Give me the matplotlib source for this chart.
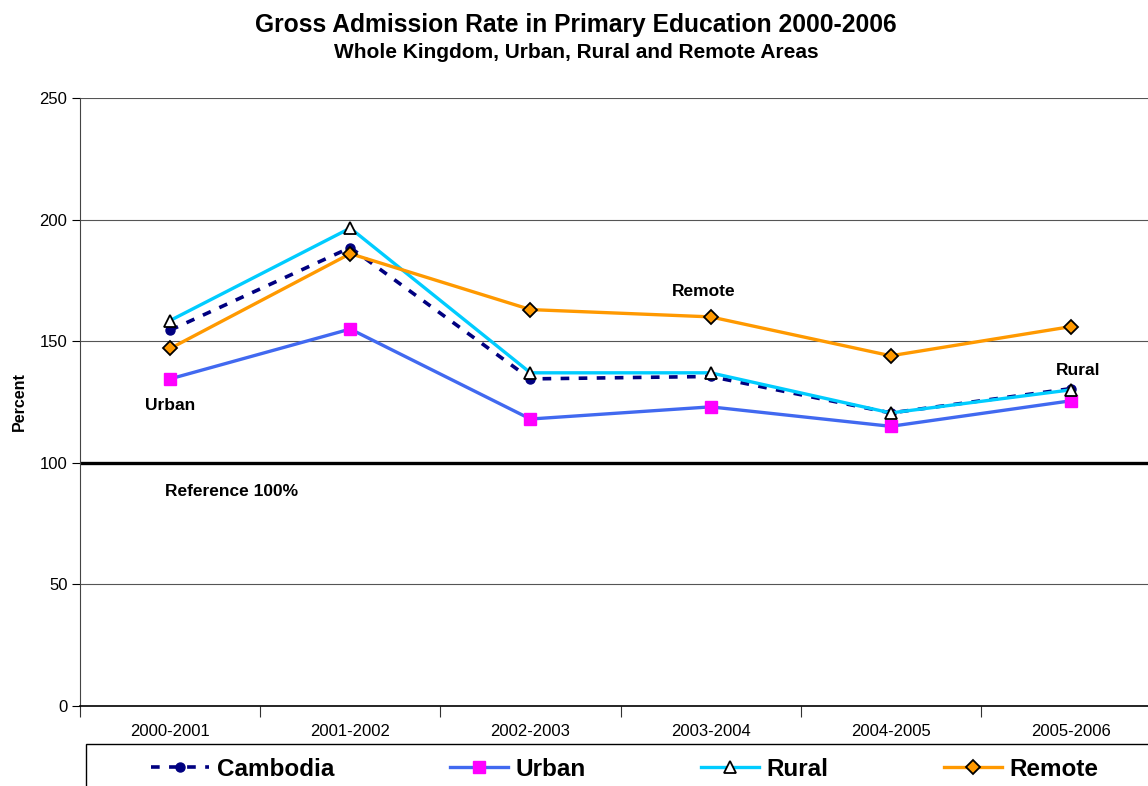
import matplotlib.pyplot as plt
from matplotlib.patches import Rectangle

plt.rcParams['font.family'] = ['Liberation Sans', 'DejaVu Sans']

# school years on the x axis
years = ["2000-2001", "2001-2002", "2002-2003", "2003-2004", "2004-2005", "2005-2006"]

# gross admission rate (%) per area
cambodia = [154.5, 188.5, 134.5, 135.5, 120.5, 130.5]
urban = [134.5, 155.0, 118.0, 123.0, 115.0, 125.5]
rural = [158.5, 196.5, 137.0, 137.0, 120.5, 130.0]
remote = [147.0, 186.0, 163.0, 160.0, 144.0, 156.0]

reference = 100

W, H = 1148, 786
fig = plt.figure(figsize=(W / 100, H / 100), dpi=100)
# plot area runs a little past the right edge of the figure
ax = fig.add_axes([80 / W, 1 - 706 / H, (1161 - 80) / W, (706 - 98) / H])

x = list(range(len(years)))

ax.plot(x, cambodia, color='#000080', lw=2.6, ls=(0, (2.4, 2.6)), marker='o',
        ms=6.5, mfc='#000080', mec='#000080', label='Cambodia', zorder=3)
ax.plot(x, urban, color='#4169F0', lw=2.4, marker='s', ms=8.5,
        mfc='#FF00FF', mec='#FF00FF', label='Urban', zorder=3)
ax.plot(x, rural, color='#00CCFF', lw=2.4, marker='^', ms=9,
        mfc='white', mec='black', mew=1.3, label='Rural', zorder=3)
ax.plot(x, remote, color='#FF9900', lw=2.4, marker='D', ms=7.5,
        mfc='#FF9900', mec='black', mew=1.3, label='Remote', zorder=3)

# reference line
ax.axhline(reference, color='black', lw=2.4, zorder=2)

ax.set_xlim(-0.5, len(years) - 0.5)
ax.set_ylim(0, 250)
ax.set_yticks([0, 50, 100, 150, 200, 250])
ax.yaxis.grid(True, color='#555555', lw=0.8)
ax.set_axisbelow(True)

# category labels in the middle, tick marks on the boundaries
ax.set_xticks([i - 0.5 for i in range(len(years) + 1)])
ax.set_xticklabels([])
ax.set_xticks(x, minor=True)
ax.set_xticklabels(years, minor=True, fontsize=12)
ax.tick_params(axis='x', which='major', length=8, width=0.8, color='#333333')
ax.tick_params(axis='x', which='minor', length=0, pad=13)
ax.tick_params(axis='y', length=6, width=0.8, labelsize=12, pad=3)

for side in ['top', 'right']:
    ax.spines[side].set_visible(False)
ax.spines['left'].set_color('#444444')
ax.spines['bottom'].set_color('black')
ax.spines['bottom'].set_linewidth(1.2)

ax.set_ylabel('Percent', fontsize=11.5, fontweight='bold', labelpad=9)

# series labels
ax.annotate('Urban', (0, urban[0]), xytext=(0, -19), textcoords='offset points',
            ha='center', va='center', fontsize=12.5, fontweight='bold')
ax.annotate('Remote', (3, remote[3]), xytext=(-5, 18), textcoords='offset points',
            ha='center', va='center', fontsize=12.5, fontweight='bold')
ax.annotate('Rural', (5, rural[5]), xytext=(5, 14), textcoords='offset points',
            ha='center', va='center', fontsize=12.5, fontweight='bold')
ax.annotate('Reference 100%', (-0.03, reference), xytext=(0, -21), textcoords='offset points',
            ha='left', va='center', fontsize=12.5, fontweight='bold')

fig.text(576 / W, 1 - 25 / H, 'Gross Admission Rate in Primary Education 2000-2006',
         ha='center', va='center', fontsize=17.7, fontweight='bold')
fig.text(576 / W, 1 - 53 / H, 'Whole Kingdom, Urban, Rural and Remote Areas',
         ha='center', va='center', fontsize=15, fontweight='bold')

# legend below the plot, boxed
fig.patches.append(Rectangle((86 / W, -0.05), 1.1, 0.05 + (786 - 744) / H,
                             transform=fig.transFigure, fill=False,
                             edgecolor='black', lw=1.0))
fig.legend(loc='center left', bbox_to_anchor=(139 / W, 1 - 769 / H), ncol=4,
           frameon=False, borderpad=0, handlelength=2.4, handletextpad=0.3,
           columnspacing=4.75, prop={'size': 17.5, 'weight': 'bold'})

fig.savefig('out.png', dpi=100)
